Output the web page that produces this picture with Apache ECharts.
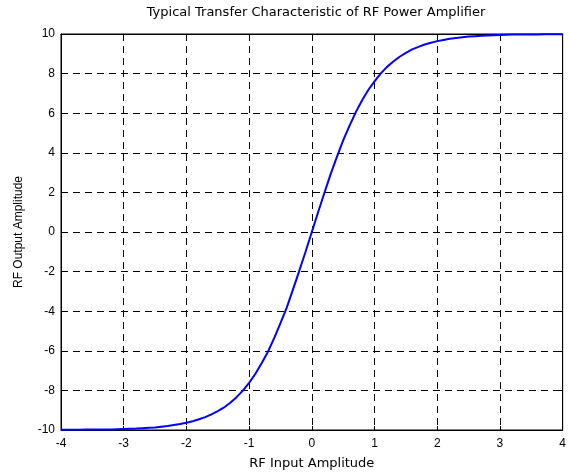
<!DOCTYPE html>
<html>
<head>
<meta charset="utf-8">
<script src="https://cdn.jsdelivr.net/npm/echarts@6/dist/echarts.min.js"></script>
<style>
  html, body { margin: 0; padding: 0; background: #fff; overflow: hidden; }
  #chart { width: 569px; height: 475px; }
</style>
</head>
<body>
<div id="chart"></div>
<script>
// input amplitude samples (negative half)
const inputNeg = [-4.0, -3.9, -3.8, -3.7, -3.6, -3.5, -3.4, -3.3, -3.2, -3.1,
  -3.0, -2.9, -2.8, -2.7, -2.6, -2.5, -2.4, -2.3, -2.2, -2.1,
  -2.0, -1.9, -1.8, -1.7, -1.6, -1.5, -1.4, -1.3, -1.2, -1.1,
  -1.0, -0.9, -0.8, -0.7, -0.6, -0.5, -0.4, -0.3, -0.2, -0.1]
const outputNeg = [-9.99, -9.99, -9.99, -9.99, -9.98, -9.98, -9.98, -9.97, -9.97, -9.96,
  -9.95, -9.94, -9.93, -9.91, -9.89, -9.87, -9.83, -9.80, -9.75, -9.70,
  -9.63, -9.56, -9.46, -9.35, -9.21, -9.05, -8.86, -8.62, -8.34, -8.01,
  -7.62, -7.16, -6.63, -6.05, -5.36, -4.60, -3.82, -2.90, -1.96, -1.00]
const inputPos = [0.0, 0.1, 0.2, 0.3, 0.4, 0.5, 0.6, 0.7, 0.8, 0.9,
  1.0, 1.1, 1.2, 1.3, 1.4, 1.5, 1.6, 1.7, 1.8, 1.9,
  2.0, 2.1, 2.2, 2.3, 2.4, 2.5, 2.6, 2.7, 2.8, 2.9,
  3.0, 3.1, 3.2, 3.3, 3.4, 3.5, 3.6, 3.7, 3.8, 3.9, 4.0]
const outputPos = [0.00, 1.00, 1.97, 2.92, 3.79, 4.63, 5.36, 6.04, 6.64, 7.17,
  7.61, 8.01, 8.34, 8.61, 8.85, 9.05, 9.22, 9.35, 9.47, 9.56,
  9.64, 9.70, 9.76, 9.80, 9.84, 9.87, 9.89, 9.91, 9.93, 9.94,
  9.95, 9.96, 9.97, 9.97, 9.98, 9.98, 9.98, 9.99, 9.99, 9.99, 9.99]

const xTicks = [-4, -3, -2, -1, 0, 1, 2, 3, 4]
const yTicks = [-10, -8, -6, -4, -2, 0, 2, 4, 6, 8, 10]

const points = inputNeg.map((x, i) => [x, outputNeg[i]])
  .concat(inputPos.map((x, i) => [x, outputPos[i]]))

const font = {
  fontFamily: 'Liberation Sans, Arial, sans-serif',
  fontSize: 12,
  color: '#000'
}
// title and x name are spaced wider in the original
const wideFont = {
  fontFamily: 'DejaVu Sans, sans-serif',
  fontSize: 13,
  fontWeight: 'normal',
  color: '#000'
}
const gridLine = {
  show: true,
  lineStyle: { color: '#000', type: [7, 5], width: 1 }
}
const tick = { show: true, inside: true, length: 4, lineStyle: { color: '#000' } }

const chart = echarts.init(document.getElementById('chart'), null, { renderer: 'canvas' })
chart.setOption({
  animation: false,
  backgroundColor: '#fff',
  title: {
    text: 'Typical Transfer Characteristic of RF Power Amplifier',
    left: 316,
    textAlign: 'center',
    top: 6,
    padding: 0,
    textStyle: wideFont
  },
  grid: {
    left: 61,
    right: 2,
    top: 34,
    bottom: 41,
    show: true,
    borderColor: '#000',
    borderWidth: 1
  },
  xAxis: [
    {
      type: 'value',
      min: xTicks[0],
      max: xTicks[xTicks.length - 1],
      interval: 1,
      name: 'RF Input Amplitude',
      nameLocation: 'middle',
      nameGap: 27,
      nameTextStyle: wideFont,
      axisLine: { show: true, onZero: false, lineStyle: { color: '#000' } },
      axisTick: tick,
      axisLabel: Object.assign({ margin: 8, showMaxLabel: true, showMinLabel: true }, font),
      splitLine: gridLine
    },
    {
      type: 'value',
      position: 'top',
      min: xTicks[0],
      max: xTicks[xTicks.length - 1],
      interval: 1,
      axisLine: { show: true, onZero: false, lineStyle: { color: '#000' } },
      axisTick: tick,
      axisLabel: { show: false },
      splitLine: { show: false }
    }
  ],
  yAxis: [
    {
      type: 'value',
      min: yTicks[0],
      max: yTicks[yTicks.length - 1],
      interval: 2,
      name: 'RF Output Amplitude',
      nameLocation: 'middle',
      nameGap: 36,
      nameTextStyle: font,
      axisLine: { show: true, onZero: false, lineStyle: { color: '#000' } },
      axisTick: tick,
      axisLabel: Object.assign({ margin: 6 }, font),
      splitLine: gridLine
    },
    {
      type: 'value',
      position: 'right',
      min: yTicks[0],
      max: yTicks[yTicks.length - 1],
      interval: 2,
      axisLine: { show: true, onZero: false, lineStyle: { color: '#000' } },
      axisTick: tick,
      axisLabel: { show: false },
      splitLine: { show: false }
    }
  ],
  series: [
    {
      type: 'line',
      data: points,
      showSymbol: false,
      smooth: false,
      clip: true,
      lineStyle: { color: '#0000ff', width: 2 }
    }
  ]
})
</script>
</body>
</html>
